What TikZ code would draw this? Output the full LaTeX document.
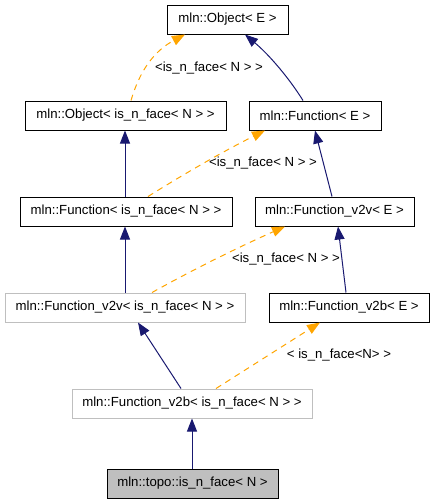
\documentclass[tikz,border=0pt]{standalone}
\usepackage{fontspec}
\setmainfont{Liberation Sans}
\usetikzlibrary{arrows.meta}
\definecolor{navy}{RGB}{25,25,112}
\definecolor{orng}{RGB}{255,165,0}
\definecolor{lgray}{RGB}{191,191,191}
\begin{document}
\begin{tikzpicture}[x=1pt,y=-1pt,
  cls/.style={draw=black,line width=1pt,minimum height=29pt,inner sep=0pt,font=\fontsize{13.2}{15}\selectfont},
  grey/.style={cls,draw=lgray},
  sel/.style={cls,fill=lgray},
  inh/.style={draw=navy,line width=1pt,-{Triangle[length=13pt,width=10pt]}},
  tpl/.style={draw=orng,line width=1pt,dash pattern=on 6pt off 5pt,-{Triangle[length=13pt,width=10pt]}},
  lbl/.style={font=\fontsize{13.2}{15}\selectfont,inner sep=0pt}]
\useasboundingbox (0,0) rectangle (435,504);
\node[cls,minimum width=121pt] (b1) at (227.5,19.5) {mln::Object< E >};
\node[cls,minimum width=201pt] (b2) at (125.5,115.5) {mln::Object< is\_n\_face< N > >};
\node[cls,minimum width=132pt] (b3) at (315,115.5) {mln::Function< E >};
\node[cls,minimum width=212pt] (b4) at (126,211.5) {mln::Function< is\_n\_face< N > >};
\node[cls,minimum width=159pt] (b5) at (334.5,211.5) {mln::Function\_v2v< E >};
\node[grey,minimum width=240pt] (b6) at (125,307.5) {mln::Function\_v2v< is\_n\_face< N > >};
\node[cls,minimum width=160pt] (b7) at (349,307.5) {mln::Function\_v2b< E >};
\node[grey,minimum width=240pt] (b8) at (192,403.5) {mln::Function\_v2b< is\_n\_face< N > >};
\node[sel,minimum width=171pt] (b9) at (192.5,483.5) {mln::topo::is\_n\_face< N >};
% edges
\draw[tpl] ([xshift=5.5pt]b2.north) .. controls +(9,-31) and +(-30,16) .. ([xshift=-42.5pt]b1.south);
\draw[inh] ([xshift=-12pt]b3.north) .. controls +(-13,-21) and +(25,21) .. ([xshift=17.5pt]b1.south);
\draw[inh] ([xshift=-1pt]b4.north) -- ([xshift=-0.5pt]b2.south);
\draw[tpl] ([xshift=22pt]b4.north) .. controls +(40,-25) and +(-40,20) .. ([xshift=-50pt]b3.south);
\draw[inh] ([xshift=-2.5pt]b5.north) -- (b3.south);
\draw[inh] (b6.north) -- ([xshift=-1pt]b4.south);
\draw[tpl] ([xshift=27pt]b6.north) .. controls +(45,-25) and +(-45,20) .. ([xshift=-49.5pt]b5.south);
\draw[inh] ([xshift=-3pt]b7.north) -- ([xshift=3.5pt]b5.south);
\draw[inh] ([xshift=-11pt]b8.north) -- ([xshift=13pt]b6.south);
\draw[tpl] ([xshift=24pt]b8.north) -- ([xshift=-29pt]b7.south);
\draw[inh] ([xshift=-0.5pt]b9.north) -- (b8.south);
% labels
\node[lbl] (l1) at (209,68) {<is\_n\_face< N > >};
\node[lbl] (l2) at (263,163) {<is\_n\_face< N > >};
\node[lbl] (l3) at (286,259) {<is\_n\_face< N > >};
\node[lbl] (l4) at (339,355) {< is\_n\_face<N> >};
\end{tikzpicture}
\end{document}
